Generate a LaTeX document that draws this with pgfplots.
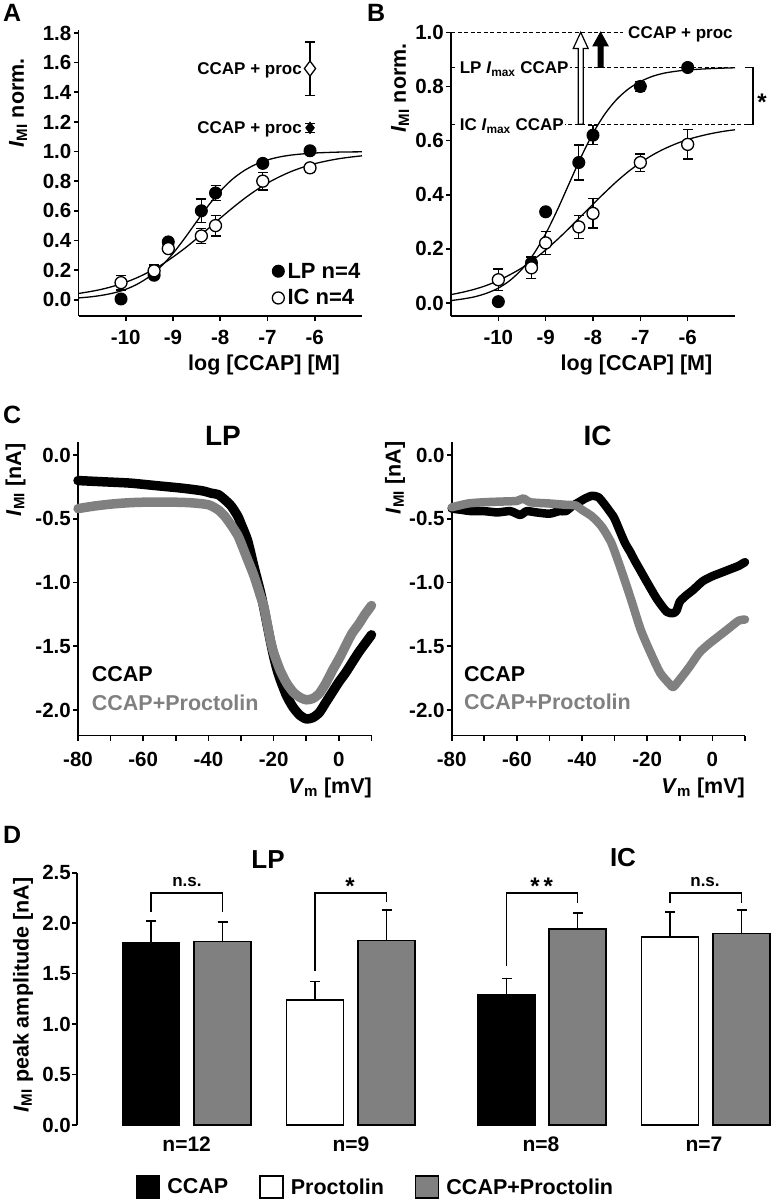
\documentclass[border=0pt]{standalone}
\usepackage{fontspec}
\setmainfont{Liberation Sans}
\usepackage{pgfplots}
\pgfplotsset{compat=1.18}
\newcommand\f[1]{\fontsize{#1pt}{#1pt}\selectfont\bfseries}
\definecolor{gr}{RGB}{128,128,128}
\tikzset{dsh/.style={line width=1.2pt, dash pattern=on 4pt off 2.5pt}}
\pgfplotsset{
  panel/.style={scale only axis, axis x line*=bottom, axis y line*=left,
    axis line style={line width=1.6pt,-}, tick align=outside, major tick length=5pt,
    tick style={line width=1.6pt, black}, ticklabel style={font=\f{20.5}},
    yticklabel style={inner sep=2pt}},
  errs/.style={error bars/y dir=both, error bars/y explicit,
    error bars/error bar style={line width=1.3pt, black},
    error bars/error mark options={rotate=90, mark size=5pt, line width=1.3pt, black}},
  errp/.style={error bars/y dir=plus, error bars/y explicit,
    error bars/error bar style={line width=1.5pt, black},
    error bars/error mark options={rotate=90, mark size=5pt, line width=1.5pt, black}},
  filledm/.style={only marks, mark=*, mark size=6pt, mark options={fill=black, draw=black, line width=1pt}},
  openm/.style={only marks, mark=*, mark size=6pt, mark options={fill=white, draw=black, line width=1.3pt}},
  fit/.style={line width=1.3pt, black, smooth, forget plot},
  dotlegend/.style={legend image code/.code={\path (-6.5pt,0pt) (7pt,0pt); \draw[##1] plot coordinates {(0pt,0pt)};}},
  boxlegend/.style={legend image code/.code={\draw[##1] (0pt,-11pt) rectangle (23pt,11pt); \path (30pt,0pt);}},
}
\begin{document}
\begin{tikzpicture}
\useasboundingbox (0pt,0pt) rectangle (772pt,-1200pt);
% ---------------- Panel A
\begin{axis}[panel, at={(78.5pt,-316pt)}, anchor=south west, width=283.5pt, height=286pt,
  xmin=-11, xmax=-5, ymin=-0.11, ymax=1.82,
  xticklabel style={yshift=-5.5pt},
  xtick={-10,-9,-8,-7,-6}, xticklabels={-10,-9,-8,-7,-6},
  ytick={0,0.2,0.4,0.6,0.8,1.0,1.2,1.4,1.6,1.8},
  yticklabels={0.0,0.2,0.4,0.6,0.8,1.0,1.2,1.4,1.6,1.8},
  legend cell align=left,
  legend style={at={(axis cs:-4.99,-0.06)}, anchor=south east, draw=none, fill=none,
    font=\f{22}, row sep=6pt, inner sep=0pt, nodes={inner sep=2pt}},
  clip=false]
\addplot[fit] coordinates {(-11,0.012) (-10.75,0.019) (-10.5,0.030) (-10.25,0.046) (-10,0.070) (-9.75,0.106) (-9.5,0.156) (-9.25,0.225) (-9,0.312) (-8.75,0.416) (-8.5,0.527) (-8.25,0.636) (-8,0.732) (-7.75,0.811) (-7.5,0.870) (-7.25,0.913) (-7,0.943) (-6.75,0.963) (-6.5,0.976) (-6.25,0.984) (-6,0.990) (-5.5,0.996) (-5,0.998)};
\addplot[fit] coordinates {(-11,0.042) (-10.75,0.055) (-10.5,0.071) (-10.25,0.092) (-10,0.118) (-9.75,0.150) (-9.5,0.189) (-9.25,0.234) (-9,0.288) (-8.75,0.347) (-8.5,0.412) (-8.25,0.481) (-8,0.550) (-7.75,0.617) (-7.5,0.680) (-7.25,0.737) (-7,0.787) (-6.75,0.829) (-6.5,0.865) (-6.25,0.894) (-6,0.918) (-5.75,0.936) (-5.5,0.951) (-5.25,0.962) (-5,0.971)};
\addplot[filledm, errs, dotlegend] coordinates {(-10.1,0.005) +- (0,0) (-9.4,0.165) +- (0,0.02) (-9.1,0.39) +- (0,0.015) (-8.4,0.60) +- (0,0.08) (-8.1,0.72) +- (0,0.05) (-7.1,0.92) +- (0,0.02) (-6.1,1.005) +- (0,0.015)};
\addlegendentry{LP n=4}
\addplot[openm, errs, dotlegend] coordinates {(-10.1,0.115) +- (0,0.05) (-9.4,0.195) +- (0,0.04) (-9.1,0.345) +- (0,0.025) (-8.4,0.43) +- (0,0.05) (-8.1,0.50) +- (0,0.07) (-7.1,0.80) +- (0,0.06) (-6.1,0.89) +- (0,0.03)};
\addlegendentry{IC n=4}
\addplot[only marks, mark=diamond*, mark size=7.5pt, mark options={fill=white, draw=black, line width=1.3pt}, errs, forget plot] coordinates {(-6.1,1.56) +- (0,0.18)};
\addplot[only marks, mark=diamond*, mark size=6pt, mark options={fill=black, draw=black}, errs, forget plot] coordinates {(-6.1,1.16) +- (0,0.03)};
\node[anchor=base east, inner sep=0pt, font=\f{17}] at (axis cs:-6.27,1.52) {CCAP + proc};
\node[anchor=base east, inner sep=0pt, font=\f{17}] at (axis cs:-6.27,1.12) {CCAP + proc};
\end{axis}
% ---------------- Panel B
\begin{axis}[panel, at={(451pt,-316pt)}, anchor=south west, width=284pt, height=283.7pt,
  xmin=-11, xmax=-5, ymin=-0.048, ymax=1.0,
  xticklabel style={yshift=-5.5pt},
  xtick={-10,-9,-8,-7,-6}, xticklabels={-10,-9,-8,-7,-6},
  ytick={0,0.2,0.4,0.6,0.8,1.0}, yticklabels={0.0,0.2,0.4,0.6,0.8,1.0},
  clip=false]
\draw[dsh] (axis cs:-11,1) -- (axis cs:-7.37,1);
\node[anchor=base west, inner sep=0pt, font=\f{17}] at (axis cs:-7.26,0.977) {CCAP + proc};
\draw[dsh] (axis cs:-11,0.87) -- (axis cs:-5,0.87);
\draw[dsh] (axis cs:-11,0.66) -- (axis cs:-4.62,0.66);
\node[anchor=base west, fill=white, inner sep=1.5pt, font=\f{17}] at (axis cs:-10.85,0.8474) {LP \textit{I}\textsubscript{max} CCAP};
\node[anchor=base west, fill=white, inner sep=1.5pt, font=\f{17}] at (axis cs:-10.85,0.6374) {IC \textit{I}\textsubscript{max} CCAP};
\draw[line width=1.3pt] (axis cs:-4.79,0.87) -- (axis cs:-4.62,0.87) -- (axis cs:-4.62,0.66) -- (axis cs:-4.79,0.66);
\node[anchor=base, inner sep=0pt, font=\f{24}] at (axis cs:-4.43,0.71) {*};
\filldraw[fill=white, draw=black, line width=1.2pt] ([xshift=-2.5pt]axis cs:-8.26,0.66) -- ([xshift=-2.5pt]axis cs:-8.26,0.94) -- ([xshift=-7.5pt]axis cs:-8.26,0.94) -- (axis cs:-8.26,1.0) -- ([xshift=7.5pt]axis cs:-8.26,0.94) -- ([xshift=2.5pt]axis cs:-8.26,0.94) -- ([xshift=2.5pt]axis cs:-8.26,0.66) -- cycle;
\filldraw[fill=black, draw=black, line width=1pt] ([xshift=-2.5pt]axis cs:-7.84,0.87) -- ([xshift=-2.5pt]axis cs:-7.84,0.95) -- ([xshift=-7.5pt]axis cs:-7.84,0.95) -- (axis cs:-7.84,1.0) -- ([xshift=7.5pt]axis cs:-7.84,0.95) -- ([xshift=2.5pt]axis cs:-7.84,0.95) -- ([xshift=2.5pt]axis cs:-7.84,0.87) -- cycle;
\addplot[fit] coordinates {(-11,0.009) (-10.75,0.015) (-10.5,0.023) (-10.25,0.036) (-10,0.055) (-9.75,0.084) (-9.5,0.125) (-9.25,0.182) (-9,0.256) (-8.75,0.345) (-8.5,0.443) (-8.25,0.540) (-8,0.627) (-7.75,0.698) (-7.5,0.752) (-7.25,0.791) (-7,0.818) (-6.75,0.837) (-6.5,0.849) (-6.25,0.856) (-6,0.861) (-5.5,0.866) (-5,0.869)};
\addplot[fit] coordinates {(-11,0.031) (-10.75,0.040) (-10.5,0.051) (-10.25,0.065) (-10,0.083) (-9.75,0.105) (-9.5,0.130) (-9.25,0.161) (-9,0.196) (-8.75,0.235) (-8.5,0.277) (-8.25,0.321) (-8,0.365) (-7.75,0.408) (-7.5,0.449) (-7.25,0.486) (-7,0.518) (-6.75,0.546) (-6.5,0.569) (-6.25,0.588) (-6,0.604) (-5.75,0.616) (-5.5,0.626) (-5.25,0.634) (-5,0.640)};
\addplot[filledm, errs] coordinates {(-10,0.005) +- (0,0) (-9.3,0.148) +- (0,0.02) (-9,0.337) +- (0,0) (-8.3,0.519) +- (0,0.065) (-8,0.62) +- (0,0.035) (-7,0.80) +- (0,0.018) (-6,0.87) +- (0,0.015)};
\addplot[openm, errs] coordinates {(-10,0.086) +- (0,0.04) (-9.3,0.13) +- (0,0.04) (-9,0.222) +- (0,0.043) (-8.3,0.281) +- (0,0.043) (-8,0.331) +- (0,0.054) (-7,0.519) +- (0,0.032) (-6,0.586) +- (0,0.054)};
\end{axis}
% ---------------- Panel C (LP)
\begin{axis}[panel, at={(78pt,-735.5pt)}, anchor=south west, width=293.5pt, height=293.2pt,
  xmin=-80, xmax=10, ymin=-2.2, ymax=0.1,
  xticklabel style={yshift=-8.5pt},
  xtick={-80,-70,-60,-50,-40,-30,-20,-10,0,10}, xticklabels={-80,,-60,,-40,,-20,,0,},
  ytick={-2,-1.5,-1,-0.5,0}, yticklabels={-2.0,-1.5,-1.0,-0.5,0.0}, clip=false]
\addplot[black, line width=9.5pt, line cap=round, line join=round, smooth, tension=0.4] coordinates {(-80,-0.20) (-72,-0.21) (-64,-0.22) (-56,-0.24) (-48,-0.26) (-42,-0.28) (-39,-0.30) (-37,-0.31) (-35,-0.35) (-33,-0.40) (-31,-0.48) (-30,-0.54) (-28,-0.67) (-26,-0.88) (-24,-1.08) (-23,-1.20) (-22,-1.33) (-21,-1.46) (-20,-1.58) (-19,-1.68) (-18,-1.76) (-16,-1.89) (-14,-1.98) (-12,-2.04) (-10,-2.07) (-8,-2.06) (-6,-2.02) (-4,-1.94) (-2,-1.86) (0,-1.78) (2,-1.71) (4,-1.63) (6,-1.55) (8,-1.48) (10,-1.41)};
\addplot[gr, line width=9.5pt, line cap=round, line join=round, smooth, tension=0.4] coordinates {(-80,-0.42) (-75,-0.40) (-70,-0.385) (-65,-0.375) (-60,-0.37) (-50,-0.37) (-45,-0.375) (-40,-0.39) (-37,-0.43) (-35,-0.48) (-33,-0.55) (-31,-0.63) (-30,-0.69) (-28,-0.82) (-26,-0.95) (-24,-1.11) (-23,-1.19) (-22,-1.32) (-21,-1.45) (-20,-1.55) (-18,-1.69) (-16,-1.79) (-14,-1.86) (-12,-1.90) (-10,-1.92) (-8,-1.91) (-6,-1.87) (-4,-1.79) (-2,-1.69) (0,-1.60) (2,-1.50) (4,-1.40) (6,-1.33) (8,-1.25) (10,-1.18)};
\end{axis}
% ---------------- Panel C (IC)
\begin{axis}[panel, at={(451.7pt,-735.5pt)}, anchor=south west, width=293.3pt, height=293.2pt,
  xmin=-80, xmax=10, ymin=-2.2, ymax=0.1,
  xticklabel style={yshift=-8.5pt},
  xtick={-80,-70,-60,-50,-40,-30,-20,-10,0,10}, xticklabels={-80,,-60,,-40,,-20,,0,},
  ytick={-2,-1.5,-1,-0.5,0}, yticklabels={-2.0,-1.5,-1.0,-0.5,0.0}, clip=false]
\addplot[black, line width=8.5pt, line cap=round, line join=round, smooth, tension=0.4] coordinates {(-80,-0.42) (-77,-0.43) (-74,-0.44) (-70,-0.44) (-66,-0.45) (-62,-0.44) (-59,-0.47) (-57,-0.44) (-54,-0.45) (-50,-0.46) (-47,-0.44) (-45,-0.44) (-43,-0.40) (-41,-0.37) (-39,-0.34) (-37,-0.32) (-35,-0.33) (-33,-0.39) (-31,-0.46) (-30,-0.50) (-27,-0.68) (-25,-0.77) (-24,-0.82) (-22,-0.91) (-20,-1.00) (-17,-1.13) (-14,-1.23) (-12,-1.24) (-11,-1.22) (-10,-1.15) (-8,-1.10) (-6,-1.06) (-3,-0.99) (0,-0.95) (2,-0.93) (4,-0.91) (6,-0.89) (8,-0.87) (10,-0.84)};
\addplot[gr, line width=8.5pt, line cap=round, line join=round, smooth, tension=0.4] coordinates {(-80,-0.41) (-75,-0.38) (-70,-0.37) (-65,-0.365) (-60,-0.36) (-58,-0.34) (-56,-0.37) (-50,-0.38) (-45,-0.39) (-42,-0.395) (-40,-0.43) (-37,-0.48) (-34,-0.56) (-31,-0.69) (-28,-0.90) (-25,-1.13) (-22,-1.37) (-19,-1.55) (-16,-1.71) (-13,-1.80) (-12,-1.82) (-10,-1.76) (-7,-1.66) (-4,-1.55) (-1,-1.48) (2,-1.42) (5,-1.36) (8,-1.30) (10,-1.29)};
\end{axis}
% ---------------- Panel D
\begin{axis}[scale only axis, at={(77pt,-1125pt)}, anchor=south west, width=695pt, height=252.3pt,
  xmin=77, xmax=772, ymin=0, ymax=2.5,
  axis y line*=left, axis x line=none,
  axis line style={line width=1.6pt,-}, tick align=outside, major tick length=5pt,
  tick style={line width=1.6pt, black}, ticklabel style={font=\f{20.5}},
  yticklabel style={inner sep=1pt},
  ytick={0,0.5,1,1.5,2,2.5}, yticklabels={0.0,0.5,1.0,1.5,2.0,2.5},
  clip=false,
  legend columns=3, boxlegend,
  legend style={at={(axis cs:374.5,-0.615)}, anchor=center, draw=none, fill=none,
    font=\f{21.5}, nodes={inner sep=0pt},
    /tikz/every even column/.append style={column sep=31pt}}]
\addplot[ybar, bar width=57, bar shift=0pt, fill=black, draw=black, line width=1.5pt, errp, forget plot] coordinates {(151,1.81) +- (0,0.21) (506.5,1.287) +- (0,0.163)};
\addplot[ybar, bar width=57, bar shift=0pt, fill=white, draw=black, line width=1.5pt, errp, forget plot] coordinates {(315,1.24) +- (0,0.18) (670,1.865) +- (0,0.245)};
\addplot[ybar, bar width=57, bar shift=0pt, fill=gr, draw=black, line width=1.5pt, errp, forget plot] coordinates {(222.5,1.82) +- (0,0.19) (386.5,1.83) +- (0,0.30) (577.5,1.94) +- (0,0.16) (741.5,1.90) +- (0,0.23)};
\draw[line width=1.3pt] (axis cs:151,2.11) |- (axis cs:222.5,2.30) -- (axis cs:222.5,2.11);
\draw[line width=1.3pt] (axis cs:315,1.525) |- (axis cs:386.5,2.30) -- (axis cs:386.5,2.205);
\draw[line width=1.3pt] (axis cs:506.5,1.575) |- (axis cs:577.5,2.30) -- (axis cs:577.5,2.20);
\draw[line width=1.3pt] (axis cs:670,2.195) |- (axis cs:741.5,2.30) -- (axis cs:741.5,2.195);
\addlegendimage{fill=black, draw=black, line width=1.5pt}
\addlegendentry{CCAP}
\addlegendimage{fill=white, draw=black, line width=1.5pt}
\addlegendentry{Proctolin}
\addlegendimage{fill=gr, draw=black, line width=1.5pt}
\addlegendentry{CCAP+Proctolin}
\end{axis}
% ---------------- texts in page coordinates
\begin{scope}[every node/.style={inner sep=0pt}]
\node[anchor=base west, font=\f{25}] at (3pt,-21.7pt) {A};
\node[anchor=base west, font=\f{25}] at (367pt,-21.7pt) {B};
\node[anchor=base west, font=\f{25}] at (3pt,-423.3pt) {C};
\node[anchor=base west, font=\f{25}] at (3pt,-843.3pt) {D};
\node[rotate=90, font=\f{21.5}] at (18pt,-103pt) {\textit{I}\textsubscript{MI} norm.};
\node[rotate=90, font=\f{21.5}] at (400pt,-88pt) {\textit{I}\textsubscript{MI} norm.};
\node[anchor=base, font=\f{21.5}] at (264pt,-370.7pt) {log [CCAP] [M]};
\node[anchor=base, font=\f{21.5}] at (636.5pt,-370.7pt) {log [CCAP] [M]};
\node[anchor=base, font=\f{28}] at (223pt,-445pt) {LP};
\node[anchor=base, font=\f{28}] at (597.5pt,-445pt) {IC};
\node[rotate=90, font=\f{21.5}] at (15.5pt,-480pt) {\textit{I}\textsubscript{MI} [nA]};
\node[rotate=90, font=\f{21.5}] at (395pt,-478pt) {\textit{I}\textsubscript{MI} [nA]};
\node[anchor=base east, font=\f{21.5}] at (372pt,-793pt) {\textit{V}\textsubscript{m} [mV]};
\node[anchor=base east, font=\f{21.5}] at (745pt,-793pt) {\textit{V}\textsubscript{m} [mV]};
\node[anchor=base west, font=\f{21.5}] at (91.7pt,-681.7pt) {CCAP};
\node[anchor=base west, font=\f{21.5}, text=gr] at (91.7pt,-710pt) {CCAP+Proctolin};
\node[anchor=base west, font=\f{21.5}] at (464pt,-681.7pt) {CCAP};
\node[anchor=base west, font=\f{21.5}, text=gr] at (464pt,-709.3pt) {CCAP+Proctolin};
\node[anchor=base, font=\f{26}] at (268pt,-868.3pt) {LP};
\node[anchor=base, font=\f{26}] at (623pt,-866.7pt) {IC};
\node[rotate=90, font=\f{21.5}] at (23pt,-995pt) {\textit{I}\textsubscript{MI} peak amplitude [nA]};
\node[anchor=base, font=\f{17}] at (187pt,-886.4pt) {n.s.};
\node[anchor=base, font=\f{17}] at (705pt,-886.4pt) {n.s.};
\node[anchor=base, font=\f{24}] at (350pt,-894pt) {*};
\node[anchor=base, font=\f{24}] at (541.7pt,-894pt) {*\,*};
\node[anchor=base, font=\f{21}] at (186.7pt,-1151.7pt) {n=12};
\node[anchor=base, font=\f{21}] at (351pt,-1151.7pt) {n=9};
\node[anchor=base, font=\f{21}] at (541pt,-1151.7pt) {n=8};
\node[anchor=base, font=\f{21}] at (704pt,-1151.7pt) {n=7};
\end{scope}
\end{tikzpicture}
\end{document}
